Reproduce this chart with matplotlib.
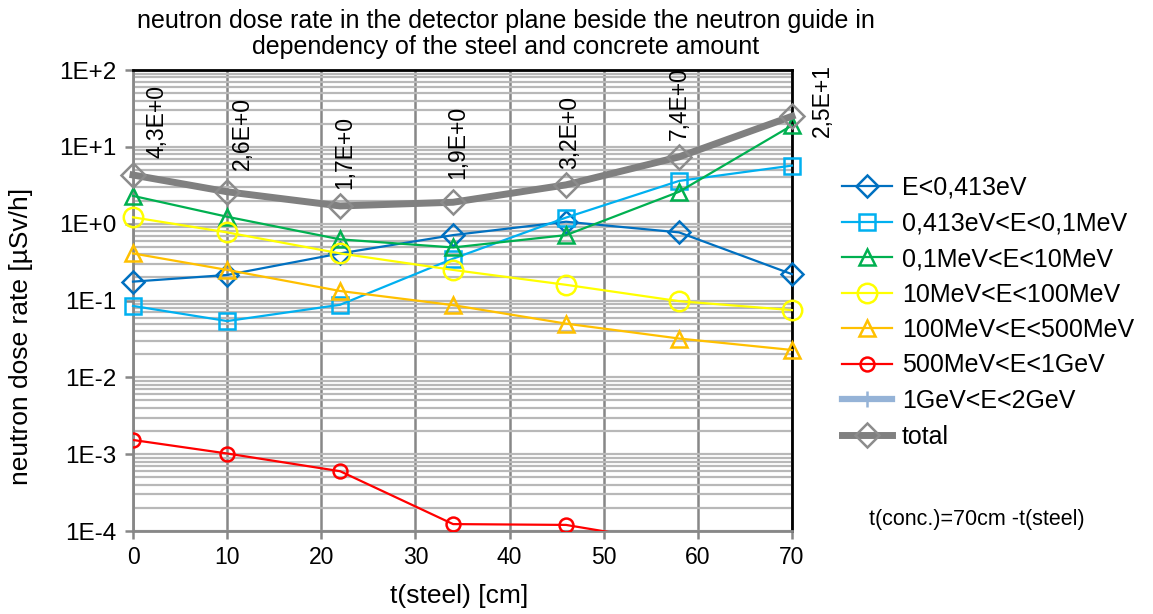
import matplotlib
matplotlib.use("Agg")
import matplotlib.pyplot as plt
from matplotlib.ticker import LogLocator, FuncFormatter, FixedLocator, NullFormatter
import numpy as np

plt.rcParams['font.family'] = ['Liberation Sans', 'DejaVu Sans']

# steel thickness [cm]
t_steel = [0, 10, 22, 34, 46, 58, 70]

# neutron dose rate per energy group [µSv/h]
e_thermal = [0.176, 0.215, 0.41, 0.71, 1.06, 0.77, 0.22]
e_epi = [0.085, 0.054, 0.088, 0.35, 1.2, 3.6, 5.7]
e_fast = [2.3, 1.23, 0.625, 0.49, 0.71, 2.6, 19.0]
e_10_100 = [1.21, 0.77, 0.41, 0.25, 0.16, 0.098, 0.075]
e_100_500 = [0.41, 0.25, 0.133, 0.087, 0.050, 0.032, 0.0227]
e_500_1g = [0.00153, 0.00102, 0.0006, 0.000123, 0.00012, 0.000068, 0.00004]
e_1g_2g = [0.00002, 0.000015, 0.00001, 0.000006, 0.000005, 0.000004, 0.000003]
total = [4.3, 2.6, 1.7, 1.9, 3.2, 7.4, 25.0]

series_labels = ["E<0,413eV", "0,413eV<E<0,1MeV", "0,1MeV<E<10MeV",
                 "10MeV<E<100MeV", "100MeV<E<500MeV", "500MeV<E<1GeV",
                 "1GeV<E<2GeV", "total"]

x_ticks = [0, 10, 20, 30, 40, 50, 60, 70]

title = ("neutron dose rate in the detector plane beside the neutron guide in\n"
         "dependency of the steel and concrete amount")
x_label = "t(steel) [cm]"
y_label = "neutron dose rate [µSv/h]"
note = "t(conc.)=70cm -t(steel)"

W, H = 1153, 614
fig = plt.figure(figsize=(W / 100, H / 100), dpi=100)
ax = fig.add_axes([133 / W, 1 - 531 / H, (792 - 133) / W, (531 - 70) / H])

ax.set_yscale('log')
ax.set_xlim(0, 70)
ax.set_ylim(1e-4, 1e2)

# grid
ax.yaxis.set_major_locator(LogLocator(base=10, numticks=10))
ax.yaxis.set_minor_locator(LogLocator(base=10, subs=np.arange(2, 10), numticks=20))
ax.yaxis.set_minor_formatter(NullFormatter())
ax.xaxis.set_major_locator(FixedLocator(x_ticks))
ax.grid(True, which='both', axis='y', color='#b8b8b8', lw=1.6, zorder=0)
ax.grid(True, which='major', axis='x', color='#878787', lw=1.8, zorder=0)
ax.set_axisbelow(True)


def sci_label(v, pos=None):
    e = int(np.floor(np.log10(v) + 1e-9))
    return f"1E{'+' if e >= 0 else '-'}{abs(e)}"


ax.yaxis.set_major_formatter(FuncFormatter(sci_label))
ax.tick_params(axis='y', which='major', length=6, width=1.8, color='#878787',
               labelsize=17.5, pad=6)
ax.tick_params(axis='y', which='minor', length=0)
ax.tick_params(axis='x', which='major', length=6, width=1.8, color='#878787',
               labelsize=16.5, pad=5)

for side in ('left', 'bottom'):
    ax.spines[side].set_color('#878787')
    ax.spines[side].set_linewidth(2)
for side in ('top', 'right'):
    ax.spines[side].set_color('black')
    ax.spines[side].set_linewidth(2)

lw = 1.6
ax.plot(t_steel, e_thermal, color='#0070C0', lw=lw, marker='D', ms=11,
        mfc='none', mew=1.8, label=series_labels[0], zorder=4, clip_on=False)
ax.plot(t_steel, e_epi, color='#00B0F0', lw=lw, marker='s', ms=11,
        mfc='none', mew=1.8, label=series_labels[1], zorder=4, clip_on=False)
ax.plot(t_steel, e_fast, color='#00B050', lw=lw, marker='^', ms=12,
        mfc='none', mew=1.8, label=series_labels[2], zorder=4, clip_on=False)
ax.plot(t_steel, e_10_100, color='#FFFF00', lw=lw, marker='o', ms=14,
        mfc='none', mew=1.8, label=series_labels[3], zorder=4, clip_on=False)
ax.plot(t_steel, e_100_500, color='#FFC000', lw=lw, marker='^', ms=12,
        mfc='none', mew=1.8, label=series_labels[4], zorder=4, clip_on=False)
ax.plot(t_steel, e_500_1g, color='#FF0000', lw=lw, marker='o', ms=10,
        mfc='none', mew=1.8, label=series_labels[5], zorder=4)
ax.plot(t_steel, e_1g_2g, color='#95B3D7', lw=4.5, marker='|', ms=11,
        mew=1.8, label=series_labels[6], zorder=4)
ax.plot(t_steel, total, color='#808080', lw=5, marker='D', ms=12,
        mfc='none', mec='#8c8c8c', mew=1.8, label=series_labels[7], zorder=5,
        clip_on=False)


def value_label(v):
    e = int(np.floor(np.log10(v) + 1e-9))
    m = v / 10 ** e
    return f"{m:.1f}".replace('.', ',') + f"E{'+' if e >= 0 else '-'}{abs(e)}"


# label offsets (pixels) relative to each total point
label_dx = [24, 15, 5, 5, 4, 0, 30]
label_dy = [17, 22, 17, 23, 16, 17, -21]
for xi, vi, dx, dy in zip(t_steel, total, label_dx, label_dy):
    ax.annotate(value_label(vi), (xi, vi), xytext=(dx, dy),
                textcoords='offset pixels', rotation=90, ha='center',
                va='bottom', fontsize=16.5, annotation_clip=False, zorder=6)

fig.text(506 / W, 1 - 34 / H, title, ha='center', va='center', fontsize=18,
         linespacing=1.1)
fig.text(459 / W, 1 - 596 / H, x_label, ha='center', va='center', fontsize=19)
fig.text(21 / W, 1 - 336 / H, y_label, ha='center', va='center', fontsize=19,
         rotation=90)
fig.text(977 / W, 1 - 520 / H, note, ha='center', va='center', fontsize=15.5)

handles, labels = ax.get_legend_handles_labels()
fig.legend(handles, labels, loc='upper left', bbox_to_anchor=(842 / W, 1 - 176 / H),
           frameon=False, fontsize=18, handlelength=2.0, handletextpad=0.4,
           labelspacing=0.46, borderaxespad=0, borderpad=0)

fig.savefig('out.png', dpi=100)
